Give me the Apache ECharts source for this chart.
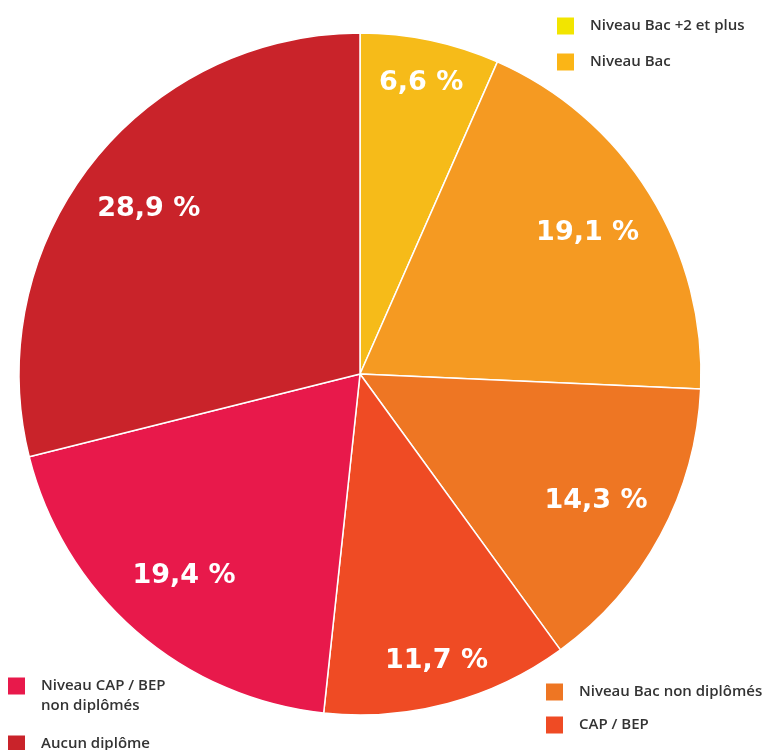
<!DOCTYPE html>
<html>
<head>
<meta charset="utf-8">
<script src="https://cdn.jsdelivr.net/npm/echarts@6/dist/echarts.min.js"></script>
<style>html,body{margin:0;padding:0;background:#fff;}#c{width:766px;height:750px;}</style>
</head>
<body>
<div id="c"></div>
<script>
var categories = ["Niveau Bac +2 et plus", "Niveau Bac", "Niveau Bac non diplômés", "CAP / BEP", "Niveau CAP / BEP non diplômés", "Aucun diplôme"];
var values = [6.6, 19.1, 14.3, 11.7, 19.4, 28.9];
var sliceColors = ["#F6BB19", "#F59A22", "#EE7623", "#EF4B24", "#E8194B", "#C9232A"];
var legendColors = ["#F2E500", "#FBB516", "#EE7623", "#EF4B24", "#E8194B", "#C9232A"];
// which labels sit further out toward the rim
var outerLabel = [true, false, false, true, false, false];

var data = categories.map(function (n, i) {
  return { name: n, value: values[i], itemStyle: { color: sliceColors[i] } };
});
function ghostData(outer) {
  return categories.map(function (n, i) {
    return { name: n, value: values[i], label: { show: outerLabel[i] === outer } };
  });
}

var legendFont = { fontFamily: "Open Sans", fontSize: 15, fontWeight: 600, color: "#333333" };
function mkLegend(i, left, top, textPad, formatter) {
  var ts = Object.assign({}, legendFont, { padding: textPad || [0, 0, 0, 11], lineHeight: 20 });
  var l = {
    show: true, orient: "vertical", left: left, top: top, padding: 0,
    itemWidth: 17, itemHeight: 17, icon: "rect", selectedMode: false,
    itemStyle: { borderWidth: 0 },
    textStyle: ts,
    data: [{ name: categories[i], itemStyle: { color: legendColors[i], borderWidth: 0 } }]
  };
  if (formatter) l.formatter = formatter;
  return l;
}

var labelStyle = {
  position: "inside",
  fontFamily: "DejaVu Sans", fontSize: 27, fontWeight: "bold", color: "#ffffff",
  formatter: function (p) { return String(p.value).replace(".", ",") + " %"; }
};
function ghostSeries(r0, outer) {
  return {
    type: "pie",
    center: [360, 374],
    radius: [r0, 341],
    startAngle: 90,
    clockwise: true,
    silent: true,
    legendHoverLink: false,
    itemStyle: { color: "rgba(0,0,0,0)" },
    label: labelStyle,
    labelLine: { show: false },
    emphasis: { disabled: true },
    data: ghostData(outer)
  };
}

var chart = echarts.init(document.getElementById("c"), null, { renderer: "canvas" });
chart.setOption({
  animation: false,
  backgroundColor: "#ffffff",
  legend: [
    mkLegend(0, 557, 16),
    mkLegend(1, 557, 52),
    mkLegend(2, 546, 682),
    mkLegend(3, 546, 715),
    mkLegend(4, 8, 656, [0, 0, 0, 11], function (n) { return "\nNiveau CAP / BEP\nnon diplômés"; }),
    mkLegend(5, 8, 734)
  ],
  series: [
    {
      type: "pie",
      center: [360, 374],
      radius: [0, 341],
      startAngle: 90,
      clockwise: true,
      silent: true,
      label: { show: false },
      labelLine: { show: false },
      itemStyle: { borderColor: "#ffffff", borderWidth: 1.5 },
      emphasis: { disabled: true },
      data: data
    },
    ghostSeries(247, true),
    ghostSeries(189, false)
  ]
});
</script>
</body>
</html>
